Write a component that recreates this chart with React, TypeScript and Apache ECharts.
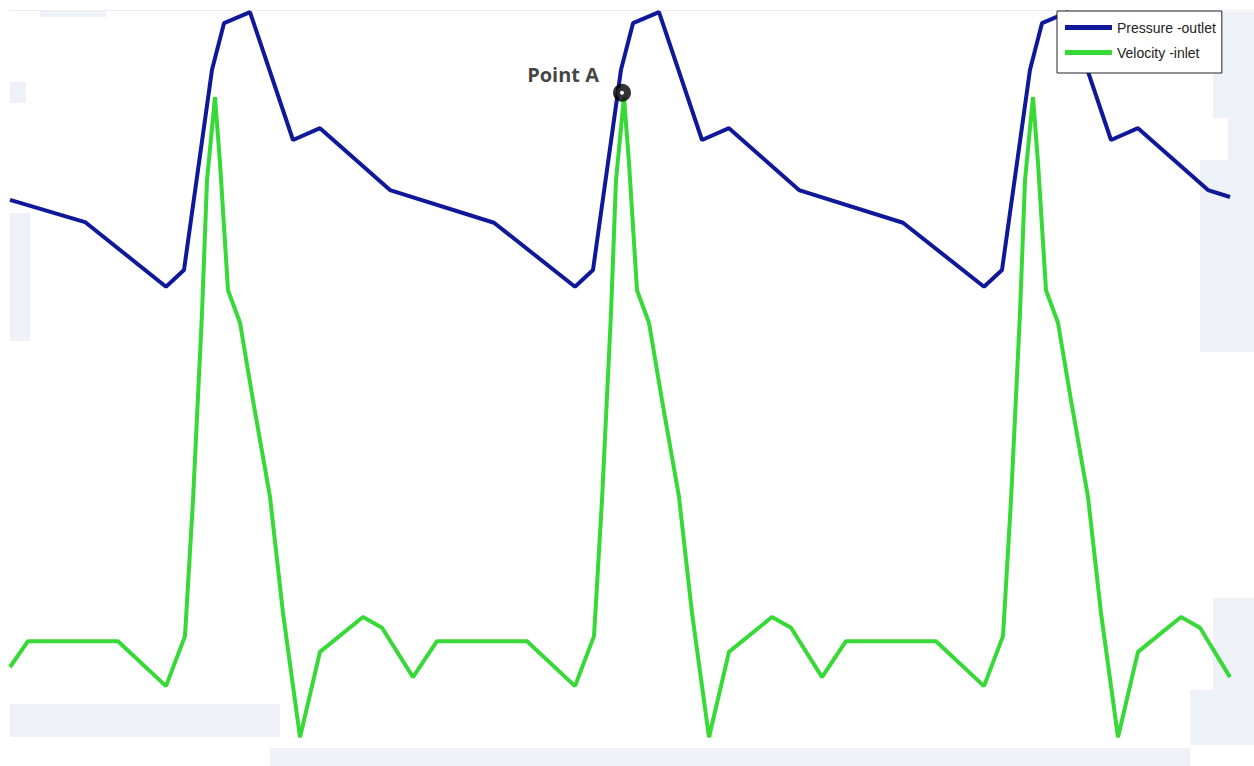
import React, { useEffect, useRef } from "react";
import * as echarts from "echarts";

// Time (s) and outlet pressure (mmHg)
const pressureTime = [
  0, 0.15, 0.312, 0.348, 0.404, 0.428, 0.48, 0.566, 0.62, 0.76,
  0.968, 1.13, 1.166, 1.222, 1.246, 1.298, 1.384, 1.438, 1.578,
  1.786, 1.948, 1.984, 2.04, 2.064, 2.116, 2.202, 2.256, 2.396, 2.44,
];
const pressureValue = [
  92.7, 89.5, 80.2, 82.6, 111.4, 118.1, 119.7, 101.3, 103.0, 94.1,
  89.4, 80.2, 82.6, 111.4, 118.1, 119.7, 101.3, 103.0, 94.1,
  89.4, 80.2, 82.6, 111.4, 118.1, 119.7, 101.3, 103.0, 94.1, 93.1,
];

// Time (s) and inlet velocity (m/s)
const velocityTime = [
  0, 0.036, 0.216, 0.312, 0.35, 0.366, 0.384, 0.394, 0.41, 0.42, 0.436, 0.46,
  0.486, 0.52, 0.546, 0.58, 0.62, 0.706, 0.744, 0.806,
  0.854, 1.034, 1.13, 1.168, 1.184, 1.202, 1.212, 1.228, 1.238, 1.254, 1.278,
  1.304, 1.338, 1.364, 1.398, 1.438, 1.524, 1.562, 1.624,
  1.672, 1.852, 1.948, 1.986, 2.002, 2.02, 2.03, 2.046, 2.056, 2.072, 2.096,
  2.122, 2.156, 2.182, 2.216, 2.256, 2.342, 2.38, 2.44,
];
const velocityValue = [
  0.03, 0.076, 0.076, -0.004, 0.085, 0.327, 0.66, 0.897, 1.045, 0.928, 0.701, 0.643,
  0.505, 0.333, 0.126, -0.095, 0.057, 0.119, 0.1, 0.012,
  0.076, 0.076, -0.004, 0.085, 0.327, 0.66, 0.897, 1.045, 0.928, 0.701, 0.643,
  0.505, 0.333, 0.126, -0.095, 0.057, 0.119, 0.1, 0.012,
  0.076, 0.076, -0.004, 0.085, 0.327, 0.66, 0.897, 1.045, 0.928, 0.701, 0.643,
  0.505, 0.333, 0.126, -0.095, 0.057, 0.119, 0.1, 0.012,
];

// Marked point
const pointATime = 1.224;
const pointAPressure = 108.1;
const pointALabel = "Point A";

const seriesNames = ["Pressure -outlet", "Velocity -inlet"];

const bgRects = [
  { x: 40, y: 11, width: 66, height: 6 },
  { x: 10, y: 82, width: 16, height: 21 },
  { x: 10, y: 213, width: 20, height: 128 },
  { x: 10, y: 704, width: 270, height: 33 },
  { x: 270, y: 748, width: 920, height: 18 },
  { x: 1213, y: 12, width: 41, height: 106 },
  { x: 1228, y: 118, width: 26, height: 42 },
  { x: 1200, y: 160, width: 54, height: 192 },
  { x: 1213, y: 598, width: 41, height: 92 },
  { x: 1190, y: 690, width: 64, height: 55 },
];

export default function App() {
  const ref = useRef<HTMLDivElement>(null);
  useEffect(() => {
    if (!ref.current) return;
    const chart = echarts.init(ref.current, undefined, { renderer: "svg" });
    const pData = pressureTime.map((t, i) => [t, pressureValue[i]]);
    const vData = velocityTime.map((t, i) => [t, velocityValue[i]]);
    chart.setOption({
      animation: false,
      backgroundColor: "#ffffff",
      grid: { left: 10, top: 10, width: 1220, height: 730 },
      xAxis: { type: "value", min: 0, max: 2.44, show: false },
      yAxis: [
        { type: "value", min: 15, max: 120, show: false },
        { type: "value", min: -0.1, max: 1.2, show: false },
      ],
      legend: {
        orient: "vertical",
        left: 1057,
        top: 11,
        padding: [8, 6, 12, 8],
        itemGap: 8,
        itemWidth: 47,
        itemHeight: 5,
        icon: "rect",
        backgroundColor: "#ffffff",
        borderColor: "#222222",
        borderWidth: 1,
        borderRadius: 0,
        data: seriesNames,
        textStyle: {
          fontFamily: "'Liberation Sans', Arial, sans-serif",
          fontSize: 14,
          lineHeight: 17,
          color: "#222222",
        },
      },
      graphic: [
        {
          type: "line",
          shape: { x1: 10, y1: 10.5, x2: 1254, y2: 10.5 },
          style: { stroke: "#ededed", lineWidth: 1 },
          silent: true,
        },
        ...bgRects.map((r) => ({
          type: "rect",
          shape: r,
          style: { fill: "#eef2f8" },
          silent: true,
        })),
      ],
      series: [
        {
          name: seriesNames[0],
          type: "line",
          yAxisIndex: 0,
          data: pData,
          showSymbol: false,
          lineStyle: { color: "#10189a", width: 4 },
          itemStyle: { color: "#10189a" },
          z: 3,
        },
        {
          name: seriesNames[1],
          type: "line",
          yAxisIndex: 1,
          data: vData,
          showSymbol: false,
          lineStyle: { color: "#36d936", width: 4 },
          itemStyle: { color: "#36d936" },
          z: 2,
        },
        {
          name: pointALabel,
          type: "scatter",
          yAxisIndex: 0,
          data: [[pointATime, pointAPressure]],
          symbol: "circle",
          symbolSize: 11,
          itemStyle: { color: "#ffffff", borderColor: "#000000", borderWidth: 7 },
          label: {
            show: true,
            formatter: pointALabel,
            position: "left",
            distance: 14,
            offset: [0, -18],
            fontFamily: "'Open Sans', sans-serif",
            fontWeight: "bold",
            fontSize: 20,
            color: "#111111",
          },
          z: 5,
        },
      ],
    });
    return () => chart.dispose();
  }, []);
  return (
    <div
      ref={ref}
      style={{ position: "fixed", left: 0, top: 0, width: 1254, height: 766 }}
    />
  );
}
